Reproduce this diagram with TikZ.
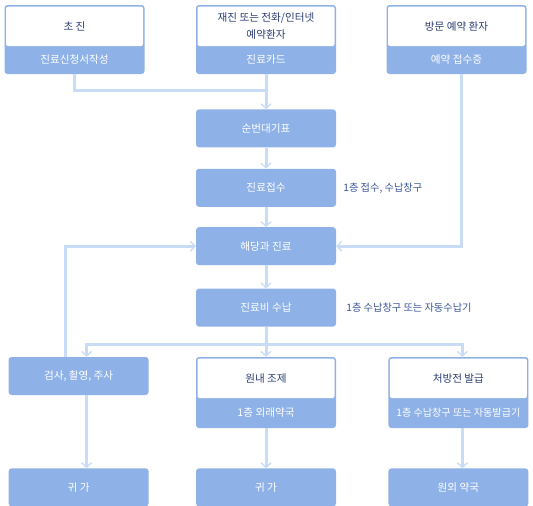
\documentclass[tikz,border=0pt]{standalone}
\usepackage{fontspec}
\setmainfont{Noto Sans CJK KR}
\usetikzlibrary{arrows.meta,positioning,calc}
\definecolor{boxblue}{HTML}{8EB1E7}
\definecolor{linkblue}{HTML}{C9DCF6}
\definecolor{headnavy}{HTML}{2C3D73}
\definecolor{noteblue}{HTML}{3A5598}

\begin{document}
\begin{tikzpicture}[x=1pt, y=-1pt, font=\fontsize{10.6}{17.5}\selectfont, every node/.style={inner sep=2pt}]
        \tikzset{
            card/.style={fill=boxblue, rounded corners=3pt, minimum width=140pt},
            cardhead/.style={fill=white, rounded corners=2pt, anchor=north, minimum width=137pt, text=headnavy, align=center},
            cardfoot/.style={anchor=south, minimum width=137pt, text=white, inner xsep=1pt},
            flow/.style={fill=boxblue, rounded corners=3pt, minimum width=140pt, minimum height=38pt, text=white},
            note/.style={text=noteblue, inner sep=0pt, font=\fontsize{10.2}{12}\selectfont},
            link/.style={draw=linkblue, line width=3pt},
            arr/.style={link, -{Straight Barb[length=4.5pt, width=10pt, line width=0pt 0.45]}}
        }
        \fill[white] (0,0) rectangle (533,506);
        \useasboundingbox (0,0) rectangle (533,506);

        % Three ways in
        \node[card, minimum height=69pt] (first) at (74.5,39.5) {};
        \node[cardhead, minimum height=39.5pt] (firsthead) at ([yshift=-1.5pt]first.north) {초 진};
        \node[cardfoot, minimum height=28pt] (firstfoot) at (first.south) {진료신청서작성};

        \node[card, minimum height=69pt] (second) at (266,39.5) {};
        \node[cardhead, minimum height=39.5pt] (secondhead) at ([yshift=-1.5pt]second.north) {재진 또는 전화/인터넷\\예약환자};
        \node[cardfoot, minimum height=28pt] (secondfoot) at (second.south) {진료카드};

        \node[card, minimum height=69pt] (third) at (456.5,39.5) {};
        \node[cardhead, minimum height=39.5pt] (thirdhead) at ([yshift=-1.5pt]third.north) {방문 예약 환자};
        \node[cardfoot, minimum height=28pt] (thirdfoot) at (third.south) {예약 접수증};

        % Main vertical flow
        \node[flow, below=35pt of second] (queue) {순번대기표};
        \node[flow, below=21pt of queue] (reception) {진료접수};
        \node[flow, below=20pt of reception] (treat) {해당과 진료};
        \node[flow, below=23pt of treat] (pay) {진료비 수납};

        \node[note, right=7pt of reception] (recnote) {1층 접수, 수납창구};
        \node[note, right=10pt of pay] (paynote) {1층 수납창구 또는 자동수납기};

        % Three ways out
        \node[card, minimum height=71pt, below=30pt of pay] (prep) {};
        \node[cardhead, minimum height=39.5pt] (prephead) at ([yshift=-1.5pt]prep.north) {원내 조제};
        \node[cardfoot, minimum height=30pt] (prepfoot) at (prep.south) {1층 외래약국};

        \node[flow, anchor=north east] (exam) at ([xshift=-47pt]prep.north west) {검사, 촬영, 주사};

        \node[card, minimum height=71pt, anchor=north west] (script) at ([xshift=52pt]prep.north east) {};
        \node[cardhead, minimum height=39.5pt] (scripthead) at ([yshift=-1.5pt]script.north) {처방전 발급};
        \node[cardfoot, minimum height=30pt, font=\fontsize{10.1}{12}\selectfont] (scriptfoot) at (script.south) {1층 수납창구 또는 자동발급기};

        \node[flow, below=73pt of exam] (examhome) {귀 가};
        \node[flow, below=40pt of prep] (prephome) {귀 가};
        \node[flow, below=40pt of script] (pharmacy) {원외 약국};

        % Merge of the first two, then down the middle
        \coordinate (join) at ([yshift=-16pt]second.south);
        \draw[link] (first.south) |- (join);
        \draw[arr] (second.south) -- (queue.north);
        \draw[arr] (queue) -- (reception);
        \draw[arr] (reception) -- (treat);
        \draw[arr] (treat) -- (pay);

        % Side entries into the department
        \draw[arr] ([xshift=5pt]third.south) |- (treat.east);
        \draw[arr] ([xshift=-13pt]exam.north) |- (treat.west);

        % Split after payment
        \coordinate (split) at ([yshift=-18pt]pay.south);
        \draw[arr] (pay) -- (prep);
        \draw[arr] (split) -| ([xshift=8pt]exam.north);
        \draw[arr] (split) -| ([xshift=4pt]script.north);

        \draw[arr] ([xshift=8pt]exam.south) -- ([xshift=8pt]examhome.north);
        \draw[arr] (prep) -- (prephome);
        \draw[arr] ([xshift=4pt]script.south) -- ([xshift=4pt]pharmacy.north);
    \end{tikzpicture}
\end{document}
